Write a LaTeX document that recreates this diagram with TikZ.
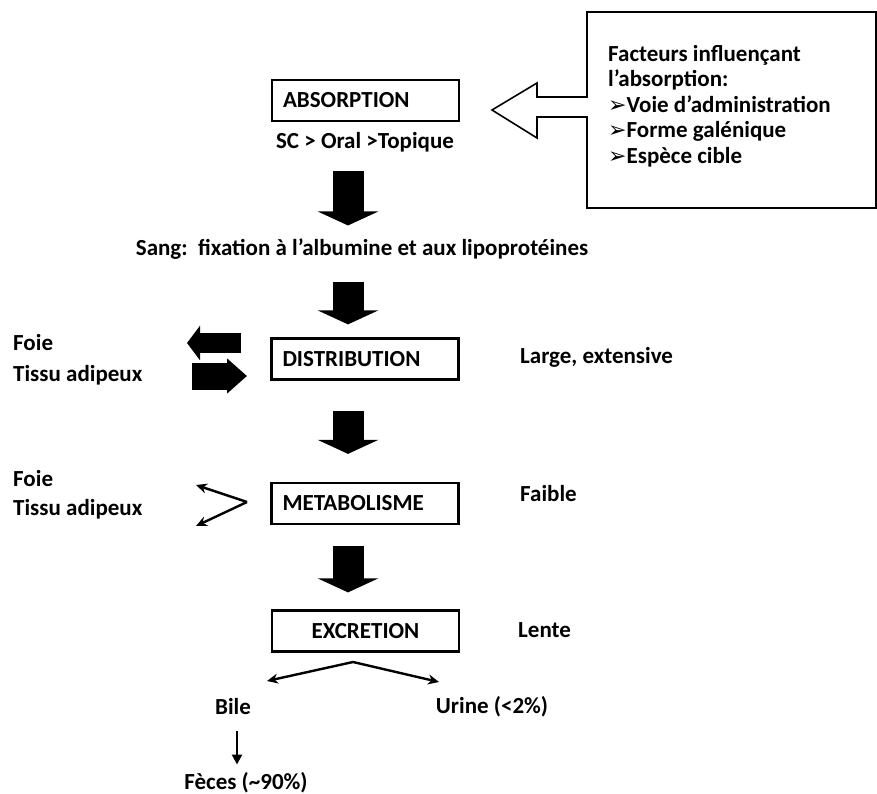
\documentclass[tikz,border=0pt]{standalone}
\usepackage{fontspec}
\setmainfont{Carlito}
\newfontfamily\dingfont{DejaVu Sans}
\usetikzlibrary{arrows.meta,calc}

\newcommand{\puce}{{\dingfont\fontsize{22}{25.5}\selectfont ➢}}

\begin{document}
\begin{tikzpicture}[x=1pt,y=-1pt,>=Stealth,
        font=\fontsize{23}{25.5}\selectfont\bfseries,
        stage/.style={draw,line width=2.2pt,minimum height=41pt,inner xsep=11pt,
            text width=165pt,align=left},
        txt/.style={inner sep=0pt},
        bigarrow/.style={line width=31pt,-{Triangle[width=60pt,length=14pt]}},
        thin arrow/.style={line width=2.4pt,-{Stealth[length=11pt,width=10pt]}}]
    \useasboundingbox (0,0) rectangle (877,794);
    \coordinate (axis) at (348,0);

    % main chain
    \node[stage] (absorption) at (365.5,100.5) {ABSORPTION};
    \node[txt] (sc) at (365,142) {SC > Oral >Topique};
    \node[txt] (sang) at (362,249) {Sang:\ \ fixation à l’albumine et aux lipoprotéines};
    \node[stage] (distribution) at (365,359) {DISTRIBUTION};
    \node[stage] (metabolisme) at (365,503.5) {METABOLISME};
    \node[stage,align=center] (excretion) at (365.5,631) {EXCRETION};

    \node[txt,anchor=west] (large) at (520,357) {Large, extensive};
    \node[txt,anchor=west] (faible) at (520,494) {Faible};
    \node[txt,anchor=west] (lente) at (518,630) {Lente};

    \node[txt,anchor=base west] (foieA) at (13,350) {Foie};
    \node[txt,anchor=base west] (tissuA) at (13,381) {Tissu adipeux};
    \node[txt,anchor=base west] (foieB) at (13,486) {Foie};
    \node[txt,anchor=base west] (tissuB) at (13,515) {Tissu adipeux};

    \node[txt] (bile) at (233,707) {Bile};
    \node[txt] (urine) at (492,707) {Urine (<2\%)};
    \node[txt] (feces) at (246,783) {Fèces (\char`~90\%)};

    % factors box with its hollow arrow
    \node[txt,anchor=north west,align=left] (facteurs) at (608,45)
        {Facteurs influençant\\l’absorption:\\\puce Voie d’administration\\
         \puce Forme galénique\\\puce Espèce cible};
    \draw[line width=1.6pt,line join=miter]
        (587,97) -- (587,12) -- (876,12) -- (876,208) -- (587,208) -- (587,117)
        -- (537,117) -- (537,138) -- (492,110) -- (537,83) -- (537,97) -- cycle;

    % block arrows
    \draw[bigarrow] ([yshift=-19pt]sc.south -| axis) -- ([yshift=13pt]sang.north -| axis);
    \draw[bigarrow] ([yshift=-22pt]sang.south -| axis) -- ([yshift=13pt]distribution.north -| axis);
    \draw[bigarrow] ([yshift=-30pt]distribution.south -| axis) -- ([yshift=28pt]metabolisme.north -| axis);
    \draw[bigarrow] ([yshift=-21pt]metabolisme.south -| axis) -- ([yshift=17pt]excretion.north -| axis);

    \draw[line width=20pt,-{Triangle[width=34pt,length=13pt]}] (241,343) -- (187,343);
    \draw[line width=27pt,-{Triangle[width=34pt,length=20pt]}] (192,376) -- (247,376);

    % small arrows
    \coordinate (vtx) at (247,502);
    \draw[thin arrow] (vtx) -- (196,485);
    \draw[thin arrow] (vtx) -- (196,526);

    \coordinate (apex) at (353,662);
    \draw[thin arrow] (apex) -- (267,681);
    \draw[thin arrow] (apex) -- (439,682);

    \draw[line width=2.4pt,-{Triangle[length=10pt,width=10pt]}] ([yshift=-16pt]bile.south -| 237,0) -- ([yshift=8pt]feces.north -| 237,0);
\end{tikzpicture}
\end{document}
